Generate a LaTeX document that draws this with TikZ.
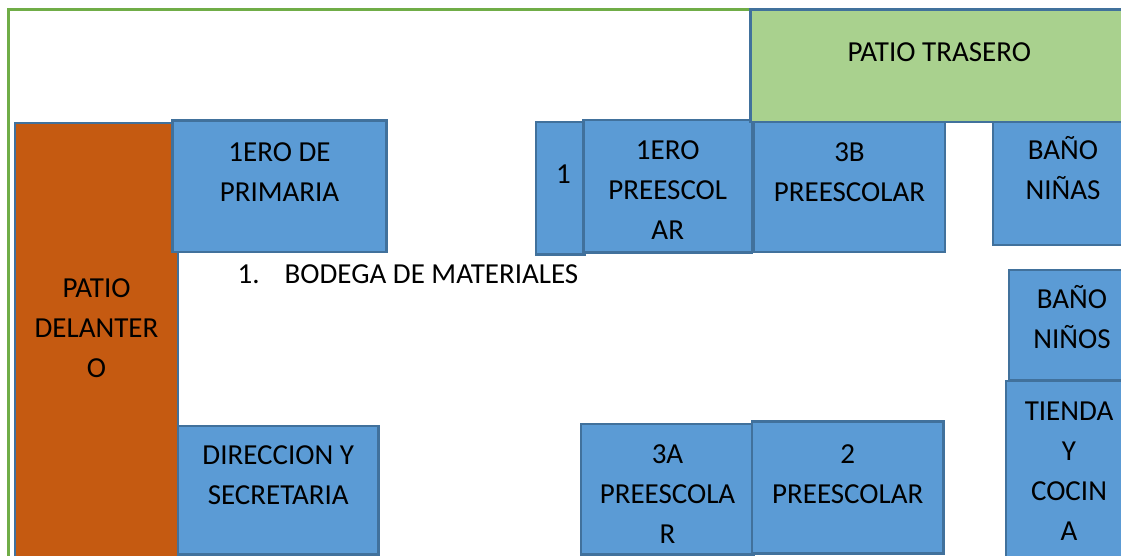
\documentclass[tikz,border=0pt]{standalone}
\usepackage{fontspec}
\setmainfont{Carlito}
\definecolor{roomfill}{HTML}{5B9BD5}
\definecolor{edgeblue}{HTML}{41719C}
\definecolor{frontyard}{HTML}{C55A11}
\definecolor{backyard}{HTML}{A9D18E}
\definecolor{outergreen}{HTML}{70AD47}
% style, name, x1, y1, x2, y2, first baseline, text
\newcommand{\roombox}[8]{%
  \node[#1,anchor=north west] (#2) at (#3,#4) {%
    \parbox[t][\dimexpr #6pt-#4pt\relax][t]{\dimexpr #5pt-#3pt\relax}{%
      \vspace*{\dimexpr #7pt-#4pt-26.5pt\relax}\centering\strut #8\par}};%
}
\tikzset{
  plot/.style={inner sep=0pt,outer sep=0pt,draw=edgeblue,line width=2.6pt,
    font=\fontsize{29}{40}\selectfont,text=black},
  room/.style={plot,fill=roomfill},
  front/.style={plot,fill=frontyard},
  back/.style={plot,fill=backyard},
  site/.style={draw=outergreen,line width=2.6pt},
  note/.style={inner sep=0pt,font=\fontsize{29}{40}\selectfont,text=black}
}
\begin{document}
\begin{tikzpicture}[x=1pt,y=-1pt]
\useasboundingbox (0,0) rectangle (1121,556);
\clip (0,0) rectangle (1121,556);
\fill[white] (0,0) rectangle (1121,556);
\draw[site] (8.5,9.5) rectangle (1200,600);
\roombox{front}{delantero}{15}{123}{178}{600}{296}{PATIO\\DELANTER\\O}
\roombox{room}{primaria}{172.5}{120.5}{386.5}{252}{160}{1ERO DE\\PRIMARIA}
\roombox{room}{direccion}{178}{426}{378.5}{554.5}{463}{DIRECCION Y\\SECRETARIA}
\node[note,anchor=base west] (bodega) at (237.5,283.5) {\makebox[47pt][l]{1.}BODEGA DE MATERIALES};
\roombox{room}{uno}{536}{122}{585}{254.5}{182}{\hspace*{6pt}1}
\roombox{room}{preuno}{583.5}{120}{752}{252.5}{158}{1ERO\\PREESCOL\\AR}
\roombox{room}{tresb}{754}{122}{945}{252}{160}{3B\\PREESCOLAR}
\roombox{back}{trasero}{750.5}{9.5}{1128}{122}{60}{PATIO TRASERO}
\roombox{room}{ninas}{993}{122}{1133}{245}{158}{BAÑO\\NIÑAS}
\roombox{room}{ninos}{1009}{270}{1135}{380}{307}{BAÑO\\NIÑOS}
\roombox{room}{tienda}{1006}{381}{1132}{600}{419}{TIENDA\\Y\\COCIN\\A}
\roombox{room}{tresa}{581}{424}{754}{554.5}{462}{3A\\PREESCOLA\\R}
\roombox{room}{dos}{752}{421.5}{943.5}{553.5}{462}{2\\PREESCOLAR}
\end{tikzpicture}
\end{document}
